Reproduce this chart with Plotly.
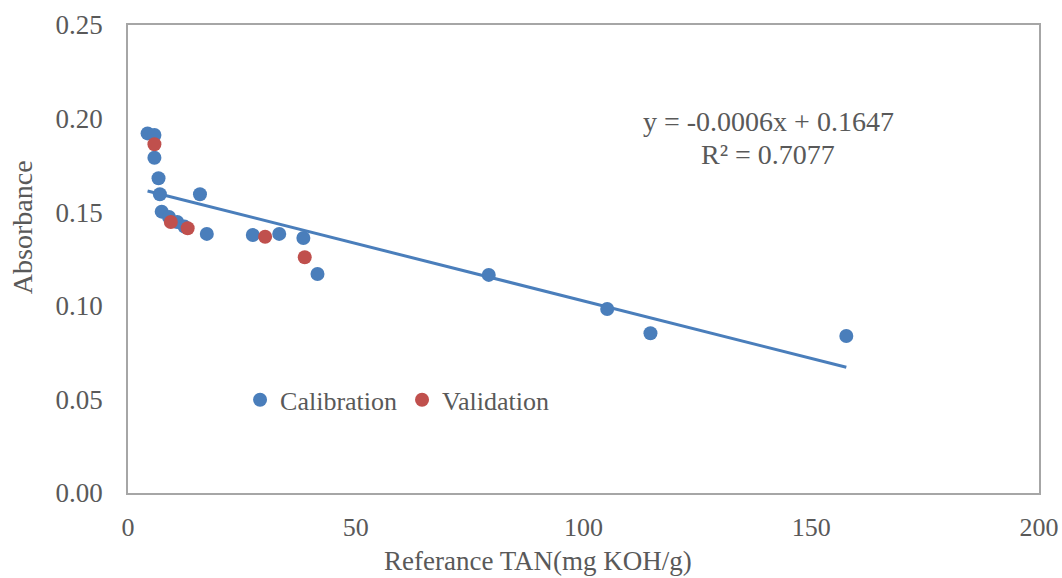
import numpy as np
import plotly.graph_objects as go

# Calibration samples: reference TAN (mg KOH/g) vs absorbance
cal_tan = [4.3, 5.8, 5.8, 6.7, 7.0, 15.8, 7.4, 9.0, 10.8, 12.4, 17.3, 27.4, 33.2,
           38.5, 41.6, 79.2, 105.2, 114.7, 157.7]
cal_abs = [0.1921, 0.1912, 0.1791, 0.1681, 0.1596, 0.1596, 0.1503, 0.1474, 0.1448,
           0.1423, 0.1384, 0.1378, 0.1384, 0.1362, 0.1170, 0.1165, 0.0983, 0.0853,
           0.0839]

# Validation samples
val_tan = [5.8, 9.4, 13.1, 30.1, 38.8]
val_abs = [0.1863, 0.1448, 0.1414, 0.1369, 0.1259]

equation_text = "y = -0.0006x + 0.1647"
r2_text = "R² = 0.7077"

BLUE = "#4a7ebb"
RED = "#c0504d"
TEXT = "#595959"
FONT = "Liberation Serif"

# Linear trendline fitted on the calibration set
slope, intercept = np.polyfit(cal_tan, cal_abs, 1)
trend_x = np.array([min(cal_tan), max(cal_tan)])
trend_y = slope * trend_x + intercept

fig = go.Figure()
fig.add_trace(go.Scatter(
    x=trend_x, y=trend_y, mode="lines",
    line=dict(color=BLUE, width=3), showlegend=False, hoverinfo="skip"))
fig.add_trace(go.Scatter(
    x=cal_tan, y=cal_abs, mode="markers", name="Calibration",
    marker=dict(color=BLUE, size=14)))
fig.add_trace(go.Scatter(
    x=val_tan, y=val_abs, mode="markers", name="Validation",
    marker=dict(color=RED, size=14)))

axis_common = dict(
    showgrid=False, zeroline=False, showline=True, mirror=True,
    linecolor="#a6a6a6", linewidth=1.5, ticks="",
    ticklabeloverflow="allow", automargin=False,
)

fig.update_layout(
    width=1062, height=578, autosize=False,
    margin=dict(l=128, r=23, t=25, b=85),
    paper_bgcolor="white", plot_bgcolor="white",
    font=dict(family=FONT, color=TEXT),
    xaxis=dict(range=[0, 200], tickvals=[0, 50, 100, 150, 200],
               ticklabelstandoff=10,
               tickfont=dict(family=FONT, size=26, color=TEXT), **axis_common),
    yaxis=dict(range=[0, 0.25], tickvals=[0, 0.05, 0.10, 0.15, 0.20, 0.25],
               tickformat=".2f", ticklabelstandoff=18,
               tickfont=dict(family=FONT, size=27, color=TEXT), **axis_common),
    legend=dict(orientation="h", x=0.123, y=0.199, xanchor="left", yanchor="middle",
                bgcolor="rgba(0,0,0,0)", itemwidth=30,
                font=dict(family=FONT, size=26, color=TEXT)),
    annotations=[
        dict(text=equation_text, x=140.6, y=0.1985, xref="x", yref="y",
             showarrow=False, xanchor="center", yanchor="middle",
             font=dict(family=FONT, size=28, color=TEXT)),
        dict(text=r2_text, x=140.6, y=0.181, xref="x", yref="y",
             showarrow=False, xanchor="center", yanchor="middle",
             font=dict(family=FONT, size=28, color=TEXT)),
        dict(text="Referance TAN(mg KOH/g)", x=0.45, y=-0.145,
             xref="paper", yref="paper", showarrow=False,
             xanchor="center", yanchor="middle",
             font=dict(family=FONT, size=27, color=TEXT)),
        dict(text="Absorbance", x=-0.1151, y=0.5684, textangle=-90,
             xref="paper", yref="paper", showarrow=False,
             xanchor="center", yanchor="middle",
             font=dict(family=FONT, size=28, color=TEXT)),
    ],
)

fig.write_html("out.html")
